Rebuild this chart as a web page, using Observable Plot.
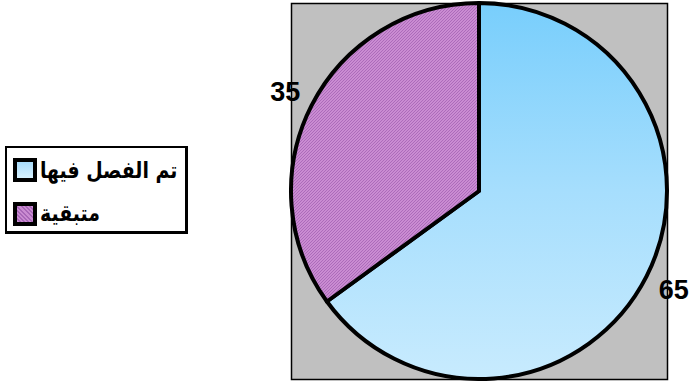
<!DOCTYPE html>
<html>
<head>
<meta charset="utf-8">
<script src="https://cdn.jsdelivr.net/npm/d3@7"></script>
<script src="https://cdn.jsdelivr.net/npm/@observablehq/plot@0.6"></script>
<style>
  body { margin: 0; background: #fff; }
  #wrap { position: relative; width: 689px; height: 384px; }
  #legend { position: absolute; left: 5px; top: 146px; width: 183px; height: 88px; box-sizing: border-box;
            border: 2px solid #000; border-right-width: 3px; border-bottom-width: 3px; background: #fff; }
  .sw { position: absolute; left: 6px; width: 24px; height: 24px; box-sizing: border-box; border: 4px solid #000; }
  .lt { position: absolute; left: 33px; height: 24px; line-height: 24px; direction: rtl; white-space: nowrap;
        font-family: "DejaVu Sans", sans-serif; font-weight: bold; font-size: 20px; color: #000;
        transform: scale(0.945, 1.15); transform-origin: left center; }
</style>
</head>
<body>
<div id="wrap"></div>
<script>
// ---- data ----
const categories = ["تم الفصل فيها", "متبقية"];
const values = [65, 35];
const valueLabels = ["65", "35"];

const data = categories.map((c, i) => ({category: c, value: values[i], label: valueLabels[i]}));
const arcs = d3.pie().sort(null).value(d => d.value)(data);
const labelPts = arcs.map(a => {
  const m = (a.startAngle + a.endAngle) / 2;
  return {x: 1.16 * Math.sin(m), y: 1.16 * Math.cos(m), text: a.data.label};
});

const pieMark = (index, scales) => {
  const cx = scales.x(0), cy = scales.y(0);
  const r = Math.abs(scales.x(1) - scales.x(0));
  const g = d3.create("svg:g");
  const defs = g.append("defs");
  const grad = defs.append("linearGradient").attr("id", "blueGrad")
    .attr("gradientUnits", "userSpaceOnUse")
    .attr("x1", 0).attr("x2", 0).attr("y1", -r).attr("y2", r);
  grad.append("stop").attr("offset", "0%").attr("stop-color", "#78cefc");
  grad.append("stop").attr("offset", "50%").attr("stop-color", "#a6defd");
  grad.append("stop").attr("offset", "100%").attr("stop-color", "#c8ebfe");
  const pat = defs.append("pattern").attr("id", "purpPat").attr("patternUnits", "userSpaceOnUse")
    .attr("width", 3).attr("height", 3);
  pat.append("rect").attr("width", 3).attr("height", 3).attr("fill", "#ca8cd2");
  pat.append("path").attr("d", "M0,3L3,0").attr("stroke", "#a868b8").attr("stroke-width", 0.9);
  const fills = ["url(#blueGrad)", "url(#purpPat)"];
  g.selectAll("path.slice").data(arcs).join("path")
    .attr("class", "slice")
    .attr("transform", `translate(${cx},${cy})`)
    .attr("d", d3.arc().innerRadius(0).outerRadius(r))
    .attr("fill", (d, i) => fills[i])
    .attr("stroke", "#000")
    .attr("stroke-width", 4)
    .attr("stroke-linejoin", "round");
  return g.node();
};

const chart = Plot.plot({
  width: 689,
  height: 384,
  marginLeft: 291,
  marginRight: 22,
  marginTop: 3,
  marginBottom: 5,
  x: {domain: [-1, 1], axis: null},
  y: {domain: [-1, 1], axis: null},
  style: {fontFamily: "'Liberation Sans', Arial, sans-serif", background: "#fff"},
  marks: [
    Plot.frame({fill: "#c0c0c0", stroke: "#000", strokeWidth: 1.5}),
    pieMark,
    Plot.text(labelPts, {x: "x", y: "y", text: "text", fontSize: 27, fontWeight: "bold", fill: "#000"})
  ]
});
const wrap = document.getElementById("wrap");
wrap.appendChild(chart);

// legend (HTML overlay)
const legend = document.createElement("div");
legend.id = "legend";
const swFills = [
  "linear-gradient(#a9dcfb, #d6f1fe)",
  "repeating-linear-gradient(45deg, #ca8cd2 0px, #ca8cd2 1.5px, #a868b8 1.5px, #a868b8 3px)"
];
const rowTops = [10, 54];
categories.forEach((c, i) => {
  const sw = document.createElement("div");
  sw.className = "sw";
  sw.style.top = rowTops[i] + "px";
  sw.style.background = swFills[i];
  legend.appendChild(sw);
  const t = document.createElement("div");
  t.className = "lt";
  t.style.top = (rowTops[i] + (i === 0 ? 0 : -1)) + "px";
  t.textContent = c;
  legend.appendChild(t);
});
wrap.appendChild(legend);
</script>
</body>
</html>
